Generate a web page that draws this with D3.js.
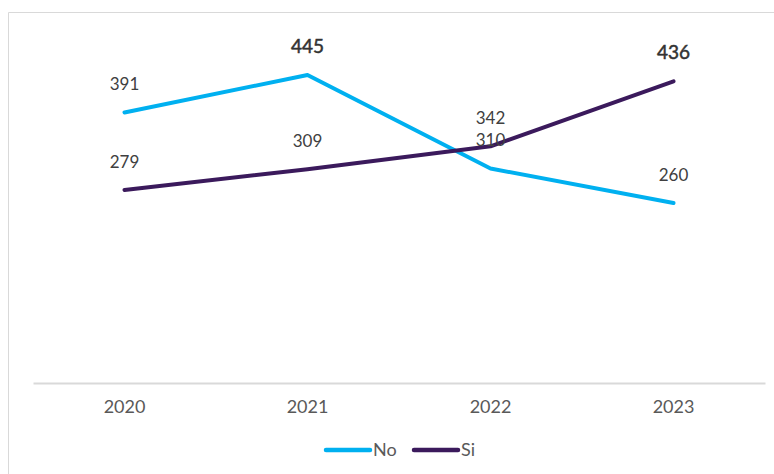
<!DOCTYPE html>
<html><head><meta charset="utf-8">
<script src="https://cdn.jsdelivr.net/npm/d3@7"></script>
<style>body{margin:0;background:#fff}svg{display:block;font-family:Lato,"Noto Sans",sans-serif}</style>
</head><body><svg id="c" width="774" height="474"></svg>
<script>
const years = ["2020","2021","2022","2023"];
const seriesNames = ["No","Si"];
const noValues = [391,445,310,260];
const siValues = [279,309,342,436];
const colors = ["#00B0F0","#3B1A5C"];

const svg = d3.select("#c");
// outer border
svg.append("path").attr("d","M8.5,474 L8.5,12.5 L774,12.5").attr("fill","none").attr("stroke","#d9d9d9").attr("stroke-width",1);

const x = d3.scaleBand().domain(years).range([33,765]);
const y = d3.scaleLinear().domain([0,500]).range([383,37]);

const xAxis = svg.append("g").attr("transform","translate(0,383)")
  .call(d3.axisBottom(x).tickSize(0).tickPadding(17));
xAxis.select(".domain").attr("stroke","#d9d9d9").attr("stroke-width",2);
xAxis.selectAll("text").attr("font-size",18).attr("fill","#595959").attr("font-family","Lato,'Noto Sans',sans-serif");

const data = [noValues, siValues];
const line = d3.line().x((d,i)=>x(years[i])+x.bandwidth()/2).y(d=>y(d));
data.forEach((vals,k)=>{
  svg.append("path").datum(vals).attr("d",line).attr("fill","none")
    .attr("stroke",colors[k]).attr("stroke-width",4).attr("stroke-linejoin","round").attr("stroke-linecap","round");
});
data.forEach((vals,k)=>{
  const mx = d3.max(vals);
  const hi = d => d===mx && d>400;
  svg.append("g").selectAll("text").data(vals).join("text")
    .attr("x",(d,i)=>x(years[i])+x.bandwidth()/2)
    .attr("y",d=>y(d)-22)
    .attr("text-anchor","middle")
    .attr("font-size",d=>hi(d) ? 19 : 17)
    .attr("fill",d=>hi(d) ? "#333333" : "#404040")
    .attr("stroke",d=>hi(d) ? "#333333" : "none")
    .attr("stroke-width",0.5)
    .text(d=>d);
});

// legend
const lg = svg.append("g");
const legendX = [326,414];
seriesNames.forEach((n,k)=>{
  lg.append("line").attr("x1",legendX[k]).attr("x2",legendX[k]+44).attr("y1",450).attr("y2",450)
    .attr("stroke",colors[k]).attr("stroke-width",4.5).attr("stroke-linecap","round");
  lg.append("text").attr("x",legendX[k]+47).attr("y",456).attr("font-size",18).attr("fill","#595959").text(n);
});
</script></body></html>
